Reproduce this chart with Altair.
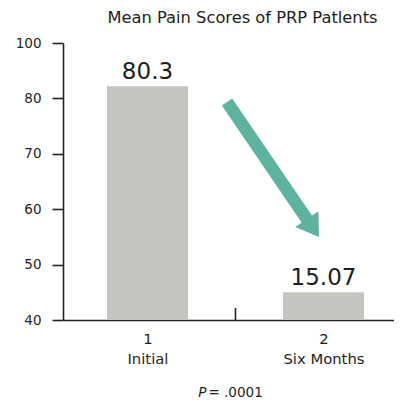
import json
import altair as alt
import pandas as pd

# ---------------- data ----------------
categories = ["Initial", "Six Months"]
category_numbers = [1, 2]
bar_heights = [82.2, 45.0]          # drawn bar tops
bar_labels = ["80.3", "15.07"]      # printed values
y_tick_values = [40, 50, 60, 70, 80, 90]
y_tick_labels = ["40", "50", "60", "70", "80", "100"]
divider_x = [1.5]
arrow_x = [1.452, 1.94]
arrow_y = [79.35, 56.6]
p_label = "P"
p_value = "= .0001"
title_text = "Mean Pain Scores of PRP Patlents"

FONT = "DejaVu Sans"
TEXT = "#1e1e1e"
BAR = "#c3c6bf"
TEAL = "#5db3a0"

bars_df = pd.DataFrame({"pos": category_numbers, "cat": categories,
                        "height": bar_heights, "label": bar_labels})
arrow_df = pd.DataFrame({"x": arrow_x, "y": arrow_y, "o": [0, 1]})
head_df = pd.DataFrame({"x": [arrow_x[-1]], "y": [arrow_y[-1]]})
div_df = pd.DataFrame({"x": divider_x})

x_scale = alt.Scale(domain=[0.52, 2.4007], nice=False, zero=False, padding=0)
y_scale = alt.Scale(domain=[y_tick_values[0], y_tick_values[-1]], nice=False, zero=False, padding=0)

y_label_expr = f"{json.dumps(y_tick_labels)}[indexof({json.dumps(y_tick_values)}, datum.value)]"
x_label_pairs = [[str(n), c] for n, c in zip(category_numbers, categories)]
x_label_expr = f"{json.dumps(x_label_pairs)}[indexof({json.dumps(category_numbers)}, datum.value)]"

x_axis = alt.Axis(values=category_numbers, labelExpr=x_label_expr, ticks=False,
                  labelPadding=11, labelLineHeight=20, labelFontSize=14.8,
                  labelFont=FONT, labelColor=TEXT, title=None, grid=False,
                  domainColor="#222", domainWidth=1.6)
y_axis = alt.Axis(values=y_tick_values, labelExpr=y_label_expr, tickSize=11,
                  tickWidth=1.6, tickColor="#222", labelPadding=11,
                  labelFontSize=13.5, labelFont=FONT, labelColor=TEXT,
                  title=None, grid=False, domainColor="#222", domainWidth=1.6)

xq = lambda f: alt.X(f, scale=x_scale)
yq = lambda f: alt.Y(f, scale=y_scale)

bars = alt.Chart(bars_df).mark_bar(width=81, color=BAR).encode(
    x=alt.X("pos:Q", scale=x_scale, axis=x_axis),
    y=alt.Y("height:Q", scale=y_scale, axis=y_axis),
    y2=alt.datum(y_tick_values[0]),
)

labels = alt.Chart(bars_df).mark_text(
    font=FONT, fontSize=23, color=TEXT, baseline="alphabetic", dy=-7
).encode(x=xq("pos:Q"), y=yq("height:Q"), text="label:N")

divider = alt.Chart(div_df).mark_rule(color="#222", strokeWidth=1.6, y2Offset=-12).encode(
    x=xq("x:Q"),
    y=alt.Y(datum=y_tick_values[0], scale=y_scale),
    y2=alt.datum(y_tick_values[0]),
)

arrow = alt.Chart(arrow_df).mark_line(color=TEAL, strokeWidth=12.5, strokeCap="butt").encode(
    x=xq("x:Q"), y=yq("y:Q"), order="o:Q"
)

head = alt.Chart(head_df).mark_point(
    shape="M-1,-0.77 L1,-0.77 L0,0.77 Z", size=784, angle=325.7,
    filled=True, opacity=1, color=TEAL, strokeWidth=0
).encode(x=xq("x:Q"), y=yq("y:Q"))

p_df = pd.DataFrame({"x": divider_x, "y": [y_tick_values[0]]})
p_italic = alt.Chart(p_df).mark_text(
    text=p_label, font=FONT, fontSize=13.5, fontStyle="italic", color=TEXT,
    align="right", baseline="alphabetic", dx=-29, dy=77
).encode(x=xq("x:Q"), y=yq("y:Q"))
p_rest = alt.Chart(p_df).mark_text(
    text=p_value, font=FONT, fontSize=13.5, color=TEXT,
    align="left", baseline="alphabetic", dx=-27, dy=77
).encode(x=xq("x:Q"), y=yq("y:Q"))

chart = alt.layer(bars, labels, divider, arrow, head, p_italic, p_rest).properties(
    width=331, height=277,
    autosize=alt.AutoSizeParams(type="none"),
    padding={"left": 55, "top": 35, "right": 0, "bottom": 80},
    title=alt.TitleParams(title_text, font=FONT, fontSize=16.3, fontWeight="normal",
                          color=TEXT, anchor="middle", dx=14, offset=10,
                          frame="group"),
).configure_view(stroke=None)

chart.save("out.html", embed_options={"renderer": "svg", "actions": False})
